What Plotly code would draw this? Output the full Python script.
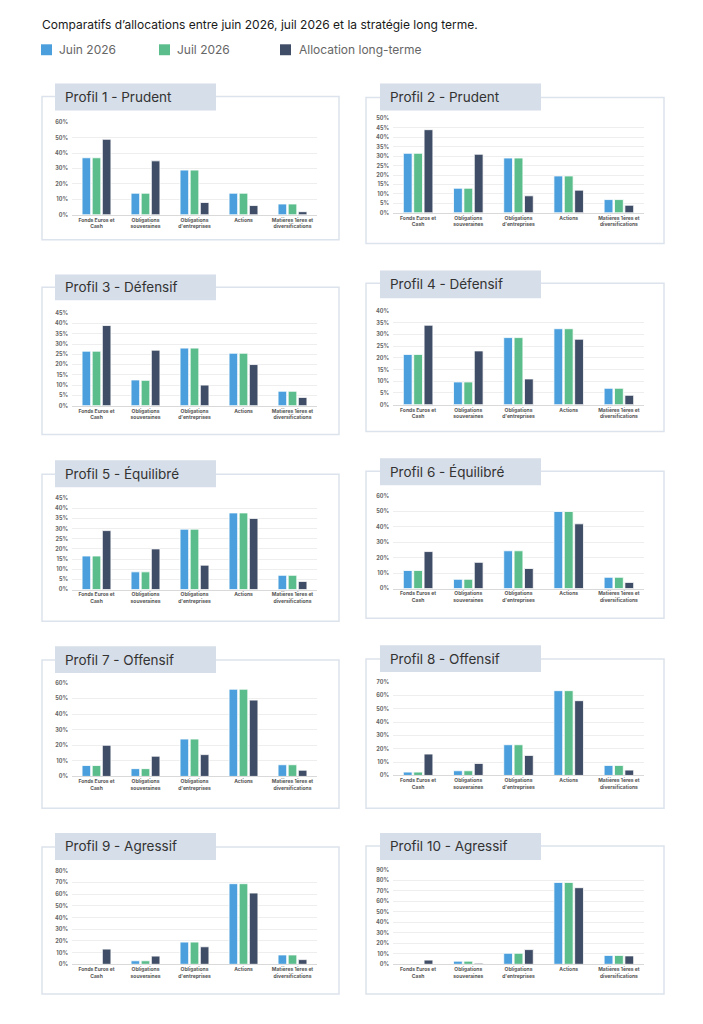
import plotly.graph_objects as go

# ---------------- data ----------------
categories = [
    "Fonds Euros et<br>Cash",
    "Obligations<br>souveraines",
    "Obligations<br>d'entreprises",
    "Actions",
    "Matières 1ères et<br>diversifications",
]
series_names = ["Juin 2026", "Juil 2026", "Allocation long-terme"]
profile_titles = [
    "Profil 1 - Prudent", "Profil 2 - Prudent",
    "Profil 3 - Défensif", "Profil 4 - Défensif",
    "Profil 5 - Équilibré", "Profil 6 - Équilibré",
    "Profil 7 - Offensif", "Profil 8 - Offensif",
    "Profil 9 - Agressif", "Profil 10 - Agressif",
]
juin_2026 = [
    [37, 14, 29, 14, 7],
    [31.5, 13, 29, 19.5, 7],
    [26.5, 12.5, 28, 25.5, 7],
    [21.5, 9.7, 28.7, 32.5, 7],
    [16.5, 8.7, 29.7, 37.7, 7],
    [11.7, 6, 24.5, 50, 7.3],
    [7, 5, 24, 56, 7.5],
    [2.5, 3.5, 23, 63.5, 7.5],
    [0, 3, 19, 69, 8],
    [0, 3, 10.5, 78, 8.5],
]
juil_2026 = [
    [37, 14, 29, 14, 7],
    [31.5, 13, 29, 19.5, 7],
    [26.5, 12.3, 28, 25.5, 7],
    [21.5, 9.7, 28.7, 32.5, 7],
    [16.5, 8.7, 29.7, 37.7, 7],
    [11.7, 6, 24.5, 50, 7.3],
    [7, 5, 24, 56, 7.5],
    [2.5, 3.5, 23, 63.5, 7.5],
    [0, 3, 19, 69, 8],
    [0, 3, 10.5, 78, 8.5],
]
long_terme = [
    [49, 35, 8, 6, 2],
    [44, 31, 9, 12, 4],
    [39, 27, 10, 20, 4],
    [34, 23, 11, 28, 4],
    [29, 20, 12, 35, 4],
    [24, 17, 13, 42, 4],
    [20, 13, 14, 49, 4],
    [16, 9, 15, 56, 4],
    [13, 7, 15, 61, 4],
    [4, 1, 14, 73, 8],
]
y_max = [60, 50, 45, 40, 45, 60, 60, 70, 80, 90]
y_step = [10, 5, 5, 5, 5, 10, 10, 10, 10, 10]

main_title = "Comparatifs d\u2019allocations entre juin 2026, juil 2026 et la stratégie long terme."

# ---------------- styling / geometry ----------------
OFF = 8                      # page body margin of the exported html
W, H = 703 - 2 * OFF, 1024 - 2 * OFF
colors = ["#4A9FDC", "#5BBD8C", "#3F4D66"]
FONT = "Inter, Roboto, sans-serif"

# per-column x geometry (page px): box, tab, plot area, tab text
cols = [
    dict(box=(42, 339), tab=(55, 216), plot=(72, 317), text=63),
    dict(box=(366, 664), tab=(380, 541), plot=(393, 644), text=388),
]
# per-panel y geometry (page px): tab top/bottom, box top/bottom, top grid, zero line
rows_geo = [
    (81, 108, 94, 238, 120, 213),
    (81, 108, 95, 242, 116, 211),
    (273, 299, 286, 434, 312, 405),
    (269, 297, 282, 431, 310, 404),
    (460, 487, 474, 622, 498, 590),
    (458, 485, 471, 619, 496, 589),
    (647, 674, 661, 810, 684, 778),
    (646, 673, 660, 810, 683, 777),
    (835, 862, 849, 997, 873, 967),
    (835, 862, 848, 997, 872, 967),
]
# legend geometry (page px): square left edges, text left edges, centre line
legend_sq_x = [41, 159, 280]
legend_txt_x = [57, 175, 297]
legend_y = 47
SQ = 11


def px_x(v):
    return (v - OFF) / W


def px_y(v):
    return 1 - (v - OFF) / H


fig = go.Figure()
shapes = []
annotations = []
layout_axes = {}

for i in range(10):
    col = cols[i % 2]
    t0, t1, b0, b1, g0, g1 = rows_geo[i]
    n = "" if i == 0 else str(i + 1)
    series = [juin_2026[i], juil_2026[i], long_terme[i]]
    for s, (name, vals) in enumerate(zip(series_names, series)):
        fig.add_trace(go.Bar(
            x=categories, y=vals, name=name,
            marker=dict(color=colors[s], line=dict(color="white", width=0.8)),
            xaxis="x" + n, yaxis="y" + n,
            showlegend=False, legendgroup=name,
            hovertemplate="%{y}%<extra>" + name + "</extra>",
        ))
    layout_axes["xaxis" + n] = dict(
        domain=[px_x(col["plot"][0]), px_x(col["plot"][1])],
        anchor="y" + n, showgrid=False, showline=True, linecolor="#d9d9d9",
        linewidth=0.8, ticks="",
        tickfont=dict(size=5, color="#555", family=FONT, weight="bold"),
        fixedrange=True,
    )
    layout_axes["yaxis" + n] = dict(
        domain=[px_y(g1), px_y(g0)], anchor="x" + n,
        range=[0, y_max[i]], dtick=y_step[i], tick0=0, ticksuffix="%",
        showgrid=True, gridcolor="#eeeeee", gridwidth=0.8, zeroline=False,
        showline=False, ticks="", ticklabelstandoff=3,
        tickfont=dict(size=5.5, color="#666", family=FONT, weight="bold"),
        fixedrange=True,
    )
    # panel box
    shapes.append(dict(
        type="rect", xref="paper", yref="paper",
        x0=px_x(col["box"][0]), x1=px_x(col["box"][1]),
        y0=px_y(b1), y1=px_y(b0),
        line=dict(color="#DCE3EC", width=1.5), fillcolor="white", layer="below",
    ))
    # title tab
    shapes.append(dict(
        type="rect", xref="paper", yref="paper",
        x0=px_x(col["tab"][0]), x1=px_x(col["tab"][1]),
        y0=px_y(t1), y1=px_y(t0),
        line=dict(width=0), fillcolor="#D6DEE9", layer="below",
    ))
    annotations.append(dict(
        text=profile_titles[i], xref="paper", yref="paper",
        x=px_x(col["text"]), y=px_y((t0 + t1) / 2),
        xanchor="left", yanchor="middle", showarrow=False,
        font=dict(size=13.5, color="#333", family=FONT),
    ))

# header title
annotations.append(dict(
    text=main_title, xref="paper", yref="paper",
    x=px_x(40), y=px_y(22), xanchor="left", yanchor="middle", showarrow=False,
    font=dict(size=12, color="#1a1a1a", family=FONT),
))

# legend (squares + labels)
for s, name in enumerate(series_names):
    shapes.append(dict(
        type="rect", xref="paper", yref="paper",
        x0=px_x(legend_sq_x[s]), x1=px_x(legend_sq_x[s] + SQ),
        y0=px_y(legend_y + SQ / 2), y1=px_y(legend_y - SQ / 2),
        line=dict(width=0), fillcolor=colors[s], layer="above",
    ))
    annotations.append(dict(
        text=name, xref="paper", yref="paper",
        x=px_x(legend_txt_x[s]), y=px_y(legend_y), xanchor="left", yanchor="middle",
        showarrow=False, font=dict(size=12, color="#666", family=FONT),
    ))

fig.update_layout(
    width=W, height=H,
    margin=dict(l=0, r=0, t=0, b=0),
    paper_bgcolor="white", plot_bgcolor="rgba(0,0,0,0)",
    barmode="group", bargap=0.38, bargroupgap=0.15,
    font=dict(family=FONT),
    shapes=shapes, annotations=annotations,
    showlegend=False,
    **layout_axes,
)

fig.write_html("out.html")
